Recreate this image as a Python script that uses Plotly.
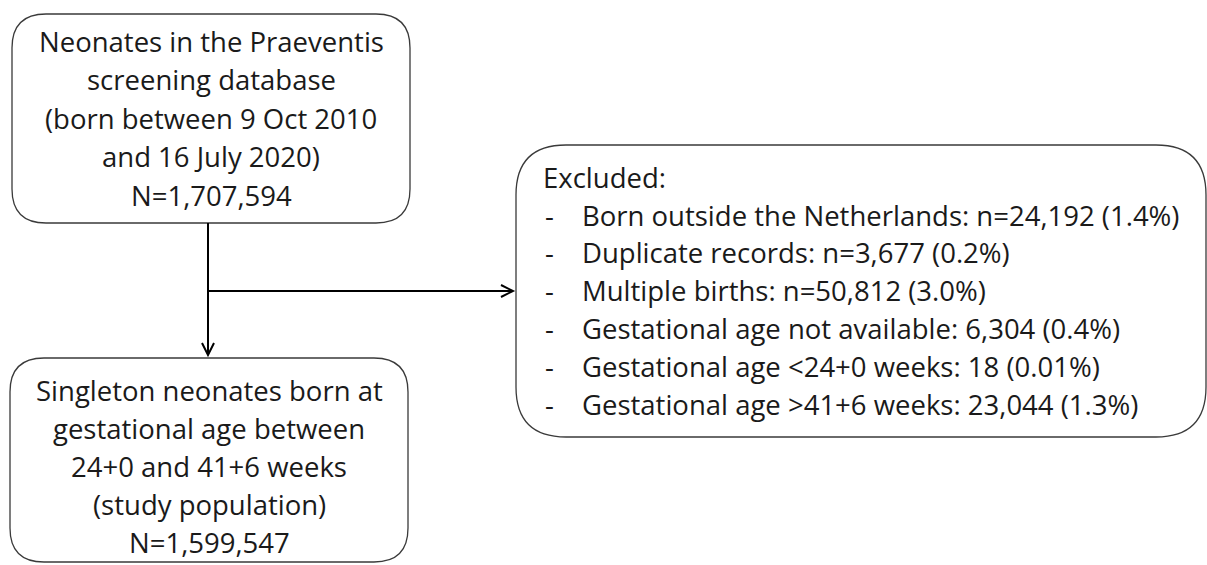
import plotly.graph_objects as go

W, H = 1207, 565
FONT = "Open Sans"

top_lines = ["Neonates in the Praeventis", "screening database",
             "(born between 9 Oct 2010", "and 16 July 2020)", "N=1,707,594"]
bottom_lines = ["Singleton neonates born at", "gestational age between",
                "24+0 and 41+6 weeks", "(study population)", "N=1,599,547"]
excl_title = "Excluded:"
excl_reasons = ["Born outside the Netherlands: n=", "Duplicate records: n=",
                "Multiple births: n=", "Gestational age not available: ",
                "Gestational age <24+0 weeks: ", "Gestational age >41+6 weeks: "]
excl_counts = ["24,192", "3,677", "50,812", "6,304", "18", "23,044"]
excl_pcts = ["1.4%", "0.2%", "3.0%", "0.4%", "0.01%", "1.3%"]

fig = go.Figure()

def rrect(x0, y0, x1, y1, r):
    return (f"M {x0+r},{y0} L {x1-r},{y0} Q {x1},{y0} {x1},{y0+r} "
            f"L {x1},{y1-r} Q {x1},{y1} {x1-r},{y1} L {x0+r},{y1} "
            f"Q {x0},{y1} {x0},{y1-r} L {x0},{y0+r} Q {x0},{y0} {x0+r},{y0} Z")

box_line = dict(color="#3a3a3a", width=1.3)
shapes = [
    dict(type="path", path=rrect(12, 14, 410, 223, 34), line=box_line),
    dict(type="path", path=rrect(10, 358, 408, 562, 34), line=box_line),
    dict(type="path", path=rrect(516, 145, 1206, 437, 50), line=box_line),
]
arrow = dict(color="black", width=2)
shapes += [
    dict(type="line", x0=208, y0=223, x1=208, y1=355, line=arrow),
    dict(type="path", path="M 202,343 L 208,355 L 214,343", line=arrow),
    dict(type="line", x0=208, y0=291, x1=513, y1=291, line=arrow),
    dict(type="path", path="M 501,285 L 513,291 L 501,297", line=arrow),
]
for s in shapes:
    s.update(xref="x", yref="y")

ann = []
fs = 27.5
col = "#1a1a1a"
def add(x, y, t, anchor):
    ann.append(dict(x=x, y=y, text=t, showarrow=False, xanchor=anchor,
                    yanchor="middle", font=dict(family=FONT, size=fs, color=col)))

for i, t in enumerate(top_lines):
    add(211, 41 + i * 38.5, t, "center")
for i, t in enumerate(bottom_lines):
    add(209, 390 + i * 38.1, t, "center")
add(541, 177, excl_title, "left")
for i, (r, c, p) in enumerate(zip(excl_reasons, excl_counts, excl_pcts)):
    y = 215 + i * 37.9
    add(543, y, "-", "left")
    add(580, y, f"{r}{c} ({p})", "left")

fig.update_layout(
    width=W, height=H, margin=dict(l=0, r=0, t=0, b=0),
    paper_bgcolor="white", plot_bgcolor="white",
    xaxis=dict(range=[0, W], visible=False, fixedrange=True),
    yaxis=dict(range=[H, 0], visible=False, fixedrange=True),
    shapes=shapes, annotations=ann, showlegend=False,
)
fig.write_html("out.html", config={"displayModeBar": False},
               post_script="document.body.style.margin='0';document.body.style.overflow='hidden';")
